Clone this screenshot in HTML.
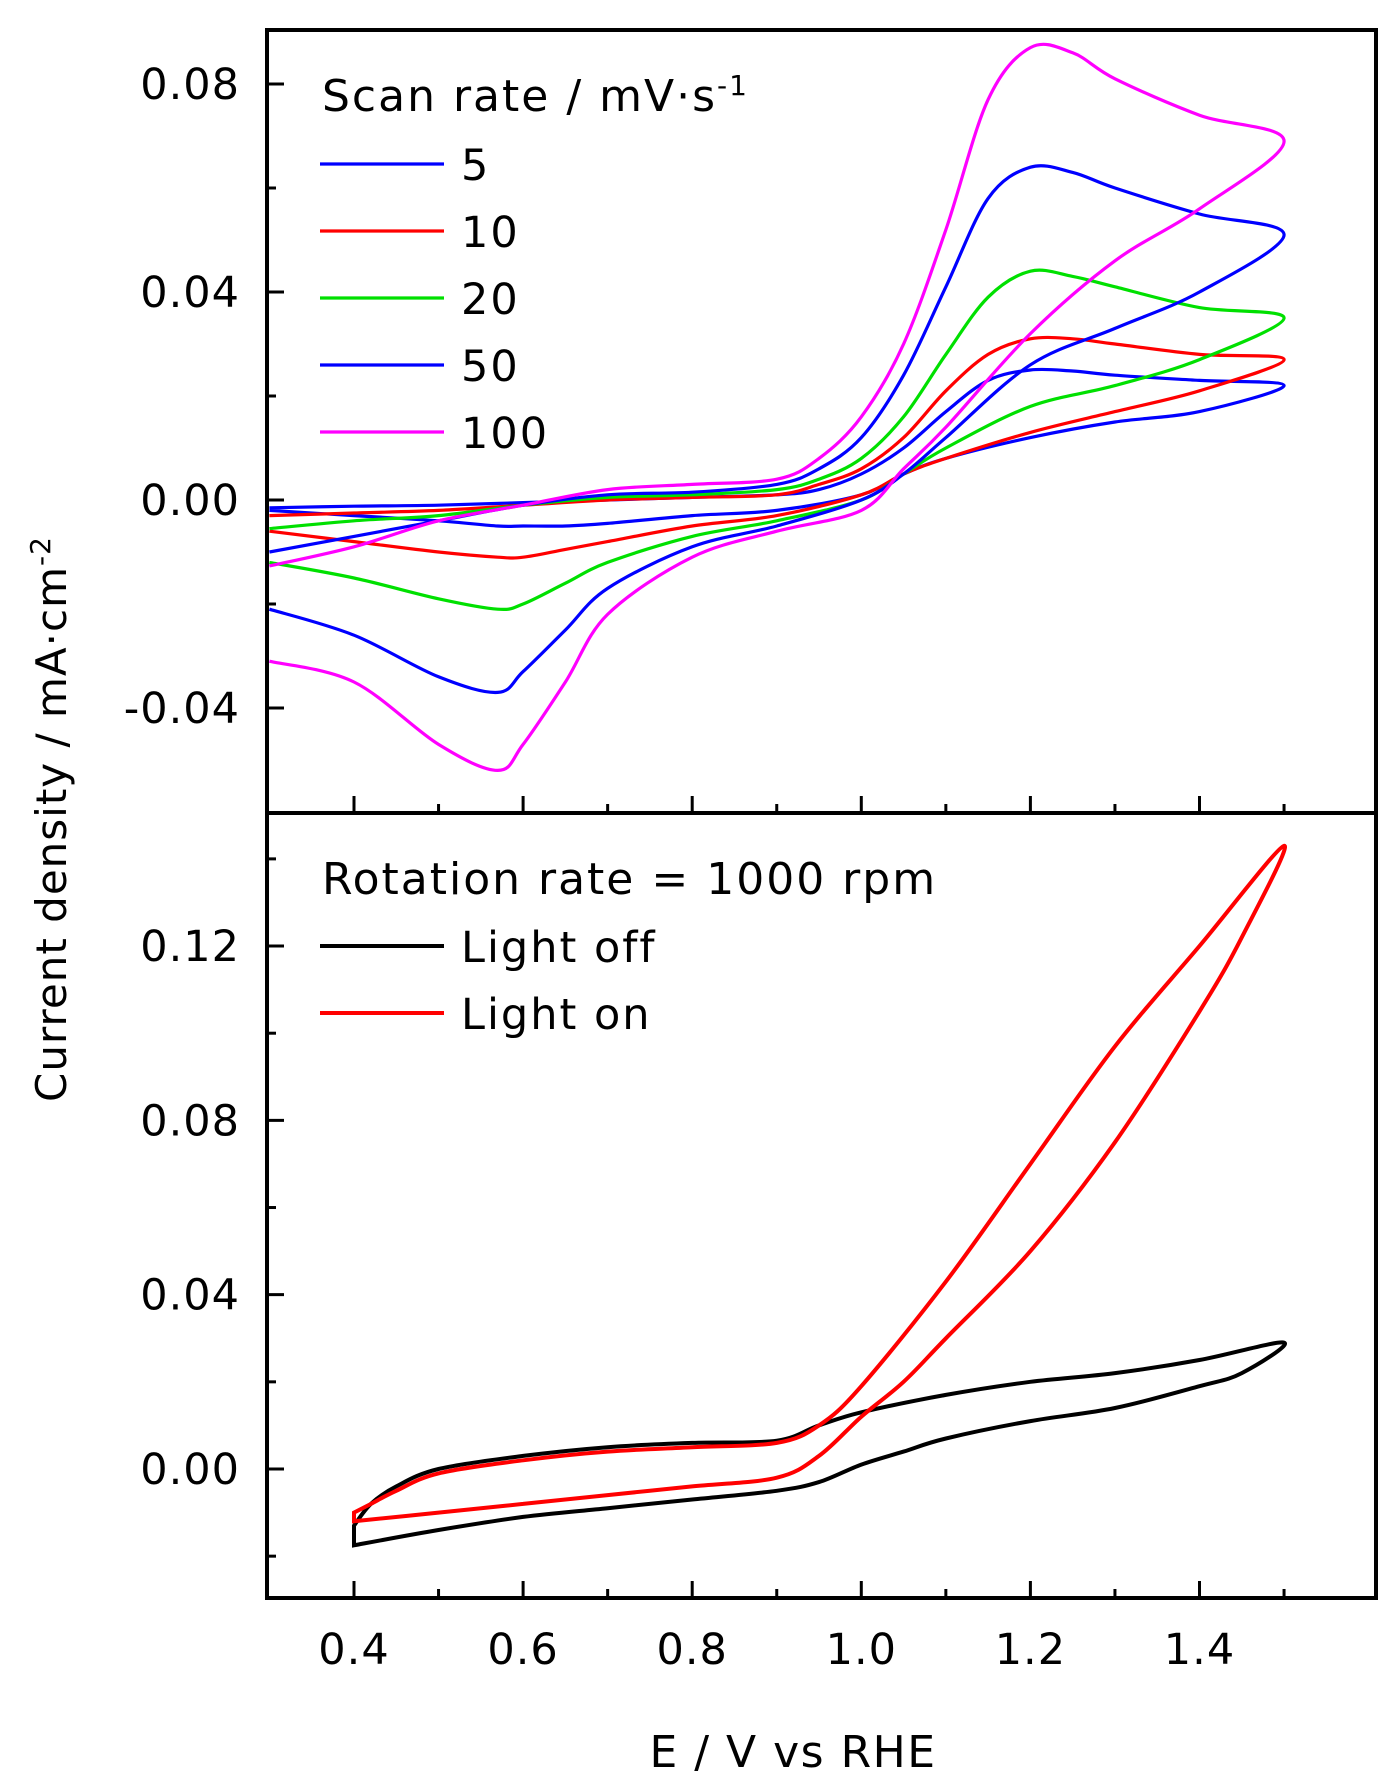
<!DOCTYPE html>
<html><head><meta charset="utf-8"><style>
html,body{margin:0;padding:0;background:#fff;}
svg{display:block;font-family:"DejaVu Sans","Liberation Sans",Arial,sans-serif;}
</style></head><body>
<svg id="chart" width="1397" height="1791" viewBox="0 0 1397 1791" xmlns="http://www.w3.org/2000/svg">
<rect x="0" y="0" width="1397" height="1791" fill="#fff"/>
<g id="marks"></g>
<g id="axes"></g>
<text transform="translate(66,819) rotate(-90)" text-anchor="middle" font-size="42" letter-spacing="1">Current density / mA·cm<tspan dy="-16" font-size="28">-2</tspan></text>
<text x="793" y="1767" text-anchor="middle" font-size="44" letter-spacing="1.5">E / V vs RHE</text>
<g>
<text x="322" y="111" font-size="44" letter-spacing="2">Scan rate / mV·s<tspan dy="-16" font-size="28">-1</tspan></text>
</g>
<g>
<text x="322" y="894" font-size="44" letter-spacing="2">Rotation rate = 1000 rpm</text>
</g>
</svg>
<script>
// ----- data -----
const xTicks = [0.4,0.6,0.8,1.0,1.2,1.4];
const xTickLabels = ["0.4","0.6","0.8","1.0","1.2","1.4"];
const topYTicks = [-0.04,0.00,0.04,0.08];
const topYTickLabels = ["-0.04","0.00","0.04","0.08"];
const botYTicks = [0.00,0.04,0.08,0.12];
const botYTickLabels = ["0.00","0.04","0.08","0.12"];
const scanRates = ["5","10","20","50","100"];
const scanColors = ["#0000ff","#ff0000","#00e000","#0000ff","#ff00ff"];
const lightLabels = ["Light off","Light on"];
const lightColors = ["#000000","#ff0000"];

const fwdE = [0.3,0.4,0.5,0.6,0.7,0.8,0.9,0.95,1.0,1.05,1.1,1.15,1.2,1.25,1.3,1.4,1.5];
const revE = [1.5,1.4,1.3,1.2,1.1,1.05,1.0,0.9,0.8,0.7,0.65,0.6,0.57,0.5,0.4,0.3];

const fwd5   = [-0.0015,-0.0012,-0.001,-0.0005,0,0.0005,0.001,0.002,0.005,0.010,0.017,0.023,0.025,0.0248,0.024,0.023,0.022];
const rev5   = [0.022,0.017,0.015,0.012,0.008,0.005,0.001,-0.002,-0.003,-0.0045,-0.005,-0.005,-0.005,-0.004,-0.003,-0.002];
const fwd10  = [-0.003,-0.0025,-0.002,-0.001,0,0.0005,0.001,0.003,0.006,0.012,0.021,0.028,0.031,0.031,0.030,0.028,0.027];
const rev10  = [0.027,0.021,0.017,0.013,0.008,0.005,0.001,-0.003,-0.005,-0.008,-0.0095,-0.011,-0.011,-0.010,-0.008,-0.006];
const fwd20  = [-0.0055,-0.004,-0.003,-0.001,0.0005,0.001,0.002,0.004,0.008,0.016,0.028,0.039,0.044,0.043,0.041,0.037,0.035];
const rev20  = [0.035,0.027,0.022,0.018,0.010,0.005,0.0,-0.004,-0.007,-0.012,-0.016,-0.020,-0.021,-0.019,-0.015,-0.012];
const fwd50  = [-0.010,-0.007,-0.004,-0.001,0.001,0.0015,0.003,0.006,0.012,0.024,0.041,0.058,0.064,0.063,0.060,0.055,0.051];
const rev50  = [0.051,0.040,0.033,0.026,0.012,0.005,0.0,-0.005,-0.009,-0.017,-0.025,-0.033,-0.037,-0.034,-0.026,-0.021];
const fwd100 = [-0.0127,-0.009,-0.004,-0.001,0.002,0.003,0.004,0.008,0.016,0.030,0.052,0.077,0.087,0.086,0.081,0.074,0.069];
const rev100 = [0.069,0.056,0.046,0.032,0.014,0.006,-0.002,-0.006,-0.011,-0.022,-0.035,-0.047,-0.052,-0.047,-0.035,-0.031];

const lowE  = [0.4,0.5,0.6,0.7,0.8,0.9,0.95,1.0,1.05,1.1,1.2,1.3,1.4,1.45,1.5];
const highE = [1.5,1.4,1.3,1.2,1.1,1.0,0.95,0.9,0.8,0.7,0.6,0.5,0.45,0.42,0.4];
const offLow  = [-0.0175,-0.014,-0.011,-0.009,-0.007,-0.005,-0.003,0.001,0.004,0.007,0.011,0.014,0.019,0.022,0.029];
const offHigh = [0.029,0.025,0.022,0.020,0.017,0.013,0.010,0.0065,0.006,0.005,0.003,0.000,-0.004,-0.008,-0.013];
const onLow   = [-0.012,-0.010,-0.008,-0.006,-0.004,-0.002,0.003,0.012,0.020,0.030,0.050,0.075,0.105,0.122,0.143];
const onHigh  = [0.143,0.120,0.097,0.070,0.043,0.019,0.010,0.006,0.005,0.004,0.002,-0.001,-0.005,-0.008,-0.010];

// ----- geometry -----
const L=267,R=1376,T=30,MID=813,B=1598;
const xs = e => 354 + (e-0.4)*845.5;
const yTop = j => 500 - j*5200;
const yBot = j => 1469 - j*4358;
const NS="http://www.w3.org/2000/svg";
const marks=document.getElementById('marks'), axes=document.getElementById('axes');
const svg=document.getElementById('chart');

function smooth(pts){
  let d="M"+pts[0][0].toFixed(1)+","+pts[0][1].toFixed(1);
  for(let i=0;i<pts.length-1;i++){
    const p0=pts[i-1]||pts[i],p1=pts[i],p2=pts[i+1],p3=pts[i+2]||p2;
    const c1=[p1[0]+(p2[0]-p0[0])/6,p1[1]+(p2[1]-p0[1])/6];
    const c2=[p2[0]-(p3[0]-p1[0])/6,p2[1]-(p3[1]-p1[1])/6];
    d+=" C"+c1[0].toFixed(1)+","+c1[1].toFixed(1)+" "+c2[0].toFixed(1)+","+c2[1].toFixed(1)+" "+p2[0].toFixed(1)+","+p2[1].toFixed(1);
  }
  return d;
}
function curve(E1,J1,E2,J2,ymap,color,w,name){
  const pts=[];
  E1.forEach((e,i)=>pts.push([xs(e),ymap(J1[i])]));
  E2.forEach((e,i)=>{ if(i>0) pts.push([xs(e),ymap(J2[i])]); });
  const p=document.createElementNS(NS,'path');
  p.setAttribute('d',smooth(pts));
  p.setAttribute('fill','none');p.setAttribute('stroke',color);p.setAttribute('stroke-width',w);
  p.setAttribute('stroke-linejoin','round');
  
  
  marks.appendChild(p);
}
const cp=document.createElementNS(NS,'clipPath');cp.setAttribute('id','ctop');
const cr=document.createElementNS(NS,'rect');cr.setAttribute('x',L);cr.setAttribute('y',T);cr.setAttribute('width',R-L);cr.setAttribute('height',MID-T);
cp.appendChild(cr);svg.insertBefore(cp,svg.firstChild);
marks.setAttribute('clip-path','url(#ctop)');
const topF=[fwd5,fwd10,fwd20,fwd50,fwd100], topR=[rev5,rev10,rev20,rev50,rev100];
for(let k=0;k<5;k++) curve(fwdE,topF[k],revE,topR[k],yTop,scanColors[k],3.2,'cv-scan-'+scanRates[k]);
const botG=document.createElementNS(NS,'g');svg.insertBefore(botG,axes);
function curveB(E1,J1,E2,J2,color,name){
  const pts=[];
  E1.forEach((e,i)=>pts.push([xs(e),yBot(J1[i])]));
  E2.forEach((e,i)=>{ if(i>0) pts.push([xs(e),yBot(J2[i])]); });
  const p=document.createElementNS(NS,'path');
  p.setAttribute('d',smooth(pts)+" Z");
  p.setAttribute('fill','none');p.setAttribute('stroke',color);p.setAttribute('stroke-width',4);
  
  
  botG.appendChild(p);
}
curveB(lowE,offLow,highE,offHigh,lightColors[0],'cv-light-off');
curveB(lowE,onLow,highE,onHigh,lightColors[1],'cv-light-on');

function line(x1,y1,x2,y2,w,name){
  const l=document.createElementNS(NS,'line');
  l.setAttribute('x1',x1);l.setAttribute('y1',y1);l.setAttribute('x2',x2);l.setAttribute('y2',y2);
  l.setAttribute('stroke','#000');l.setAttribute('stroke-width',w);
  
  
  axes.appendChild(l); return l;
}
function text(x,y,s,anchor,name,ls){
  const t=document.createElementNS(NS,'text');
  t.setAttribute('x',x);t.setAttribute('y',y);t.setAttribute('text-anchor',anchor);t.setAttribute('font-size','43');
  t.setAttribute('letter-spacing',ls||'1');
  t.textContent=s;
  
  
  axes.appendChild(t);
}
const fr=document.createElementNS(NS,'rect');
fr.setAttribute('x',L);fr.setAttribute('y',T);fr.setAttribute('width',R-L);fr.setAttribute('height',B-T);
fr.setAttribute('fill','none');fr.setAttribute('stroke','#000');fr.setAttribute('stroke-width',4);


axes.appendChild(fr);
line(L,MID,R,MID,4,'panel-divider');
for(let v=0.4;v<=1.51;v+=0.1){
  const major=Math.round(v*10)%2===0;
  const x=xs(v), len=major?17:9;
  line(x,MID,x,MID-len,3,'top-x-tick');
  line(x,B,x,B-len,3,'bottom-x-tick');
}
xTicks.forEach((v,i)=>text(xs(v),1664,xTickLabels[i],'middle','x-tick-label'));
for(let v=-0.06;v<=0.09;v+=0.02){
  const y=yTop(v); if(y<T+2||y>MID-2) continue;
  const major=Math.abs(Math.round(v*100))%4===0;
  line(L,y,L+(major?17:9),y,3,'top-y-tick');
}
topYTicks.forEach((v,i)=>text(240,yTop(v)+15,topYTickLabels[i],'end','top-y-tick-label'));
for(let v=-0.02;v<=0.15;v+=0.02){
  const y=yBot(v); if(y<MID+2||y>B-2) continue;
  const major=Math.abs(Math.round(v*100))%4===0;
  line(L,y,L+(major?17:9),y,3,'bottom-y-tick');
}
botYTicks.forEach((v,i)=>text(240,yBot(v)+15,botYTickLabels[i],'end','bottom-y-tick-label'));
const legY=[164,231,298,365,432];
scanRates.forEach((s,i)=>{
  line(320,legY[i],444,legY[i],3.2,'legend-line-'+s).setAttribute('stroke',scanColors[i]);
  text(461,legY[i]+16,s,'start','legend-label-'+s,'2');
});
const legY2=[946,1013];
lightLabels.forEach((s,i)=>{
  line(320,legY2[i],444,legY2[i],4,'legend-line-light-'+i).setAttribute('stroke',lightColors[i]);
  text(461,legY2[i]+16,s,'start','legend-label-light-'+i,'2');
});
</script>
</body></html>
